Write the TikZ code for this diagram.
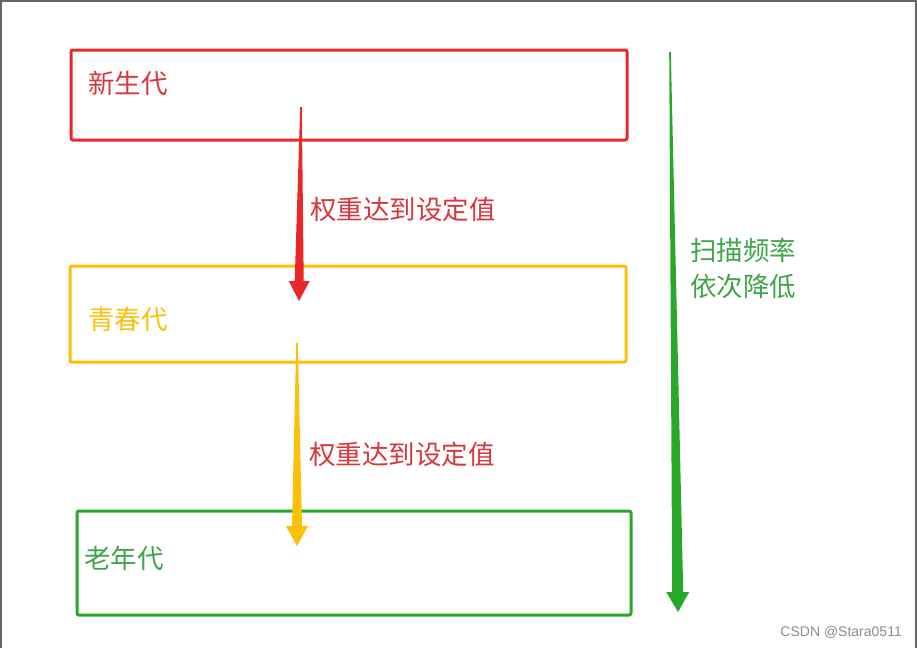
\documentclass[tikz,border=0pt]{standalone}
\usepackage{fontspec}
\setmainfont{Noto Sans CJK SC}
\newfontfamily\markfont{Liberation Sans}
\usetikzlibrary{calc}

\definecolor{genred}{RGB}{232,40,40}
\definecolor{genyellow}{RGB}{250,192,10}
\definecolor{gengreen}{RGB}{40,168,40}
\definecolor{txtred}{RGB}{215,55,60}
\definecolor{txtgreen}{RGB}{62,165,72}

% tapered arrow from #1 to #2, head width #4, shaft end width #5
\newcommand{\taperarrow}[5]{%
  \coordinate (#1h) at ($(#2)!20pt!(#1)$);
  \fill[#3] ($(#1)+(-0.8,0)$) -- ($(#1h)+(-#5,0)$) -- ($(#1h)+(-#4,0)$) -- (#2)
    -- ($(#1h)+(#4,0)$) -- ($(#1h)+(#5,0)$) -- ($(#1)+(0.8,0)$) -- cycle;}

\begin{document}
\begin{tikzpicture}[x=1pt,y=-1pt,
    genbox/.style={draw=#1, line width=3pt, rounded corners=2pt,
      minimum width=556pt, inner sep=0pt},
    cjk/.style={font=\fontsize{26.5}{36}\selectfont, inner sep=0pt, anchor=west}]
  \useasboundingbox (0,0) rectangle (917,648);
  \draw[black!60, line width=2pt] (1,648) -- (1,1) -- (916,1) -- (916,648);

  % generations
  \node[genbox=genred, minimum height=90pt] (young) at (349,95) {};
  \node[genbox=genyellow, minimum height=96pt] (middle) at (348,314) {};
  \node[genbox=gengreen, minimum height=104pt, minimum width=554pt] (old) at (354,563) {};
  \node[cjk, text=txtred] (youngtxt) at (88,83) {新生代};
  \node[cjk, text=genyellow] (middletxt) at (88,319) {青春代};
  \node[cjk, text=txtgreen] (oldtxt) at (84,558) {老年代};

  % promotion arrows
  \coordinate (up1) at (301,107);
  \coordinate (dn1) at (299,301);
  \coordinate (up2) at (297,343);
  \coordinate (dn2) at (297,546);
  \taperarrow{up1}{dn1}{genred}{10.5}{4.5}
  \taperarrow{up2}{dn2}{genyellow}{11}{5}
  \node[cjk, text=txtred] (promote1) at (310,209) {权重达到设定值};
  \node[cjk, text=txtred] (promote2) at (309,454) {权重达到设定值};

  % scan frequency
  \coordinate (scantop) at (670,52);
  \coordinate (scanbot) at (678,612);
  \taperarrow{scantop}{scanbot}{gengreen}{11.5}{5.5}
  \node[cjk, text=txtgreen, align=left, anchor=north west] (scantxt) at (690,238)
    {扫描频率\\依次降低};

  \node[font=\markfont\fontsize{14}{16}\selectfont, text=black!45, anchor=east,
    inner sep=0pt] (mark) at (902,632) {CSDN @Stara0511};
\end{tikzpicture}
\end{document}
